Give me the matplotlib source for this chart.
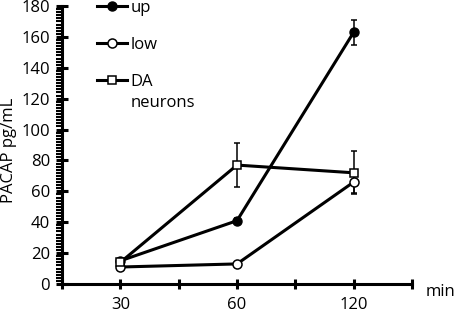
import matplotlib
matplotlib.use('Agg')
from matplotlib import pyplot as plt
from matplotlib.ticker import MultipleLocator, FixedLocator
plt.rcParams['font.family'] = ['Open Sans', 'DejaVu Sans']

# data
times = ['30', '60', '120']
up = [15, 41, 163]
up_err = [0.5, 1.5, 8]
low = [11, 13, 66]
low_err = [0.5, 0.5, 7]
da = [14, 77, 72]
da_err = [1, 14, 14]

x = [1, 2, 3]
fs = 12

fig = plt.figure(figsize=(4.57, 3.13), dpi=100)
ax = fig.add_axes([62/457, 29/313, 350/457, 278/313])

lw = 2.2
ax.errorbar(x, up, yerr=up_err, color='black', lw=lw, marker='o', ms=6.5,
            mfc='black', mec='black', ecolor='black', elinewidth=1.1, capsize=2.5, capthick=1.1,
            label='up', clip_on=False, zorder=3)
ax.errorbar(x, low, yerr=low_err, color='black', lw=lw, marker='o', ms=6.5,
            mfc='white', mec='black', mew=1.1, ecolor='black', elinewidth=1.1, capsize=2.5, capthick=1.1,
            label='low', clip_on=False, zorder=3)
ax.errorbar(x, da, yerr=da_err, color='black', lw=lw, marker='s', ms=6,
            mfc='white', mec='black', mew=1.1, ecolor='black', elinewidth=1.1, capsize=2.5, capthick=1.1,
            label='DA', clip_on=False, zorder=3)

ax.set_xlim(0.5, 3.5)
ax.set_ylim(0, 180)
for s in ['top', 'right']:
    ax.spines[s].set_visible(False)
ax.spines['left'].set_linewidth(2.2)
ax.spines['bottom'].set_linewidth(2.2)

ax.xaxis.set_major_locator(FixedLocator(x))
ax.set_xticklabels(times)
ax.xaxis.set_minor_locator(FixedLocator([0.5, 1.5, 2.5, 3.5]))
ax.tick_params(axis='x', which='both', direction='inout', length=7, width=2.2, labelsize=fs, pad=6)
ax.yaxis.set_major_locator(MultipleLocator(20))
ax.yaxis.set_minor_locator(MultipleLocator(2))
ax.tick_params(axis='y', which='major', direction='inout', length=9, width=2.2, labelsize=fs, pad=4)
ax.tick_params(axis='y', which='minor', direction='out', length=4, width=1.5)

ax.set_ylabel('PACAP pg/mL', fontsize=fs, va='center')
ax.yaxis.set_label_coords(-0.152, 0.482)
ax.set_xlabel('min', fontsize=fs, va='center', ha='right')
ax.xaxis.set_label_coords(1.123, -0.03)

h, l = ax.get_legend_handles_labels()
h = [hh[0] for hh in h]
leg = fig.legend(h, l, loc='upper left', bbox_to_anchor=(97/457, 1 + 0/313), frameon=False,
                 fontsize=fs, handlelength=1.8, handletextpad=0.2, labelspacing=1.25,
                 borderaxespad=0, borderpad=0)

fig.canvas.draw()
t = leg.get_texts()[2]
bb = t.get_window_extent()
fig.text(bb.x0 / fig.bbox.width, (bb.y0 - 5) / fig.bbox.height, 'neurons', fontsize=fs,
         ha='left', va='top')

fig.savefig('out.png', dpi=100)
